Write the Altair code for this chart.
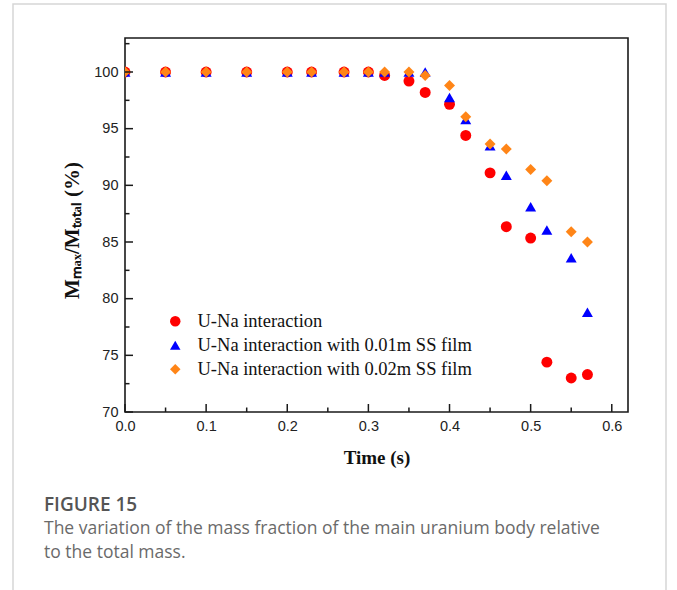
import altair as alt
import pandas as pd

# ---------------- data ----------------
time = [0.0, 0.05, 0.1, 0.15, 0.2, 0.23, 0.27, 0.3, 0.32, 0.35, 0.37,
        0.4, 0.42, 0.45, 0.47, 0.5, 0.52, 0.55, 0.57]
una = [100, 100, 100, 100, 100, 100, 100, 100, 99.7, 99.2, 98.2,
       97.15, 94.4, 91.1, 86.35, 85.35, 74.4, 73.0, 73.3]
una_01 = [100, 100, 100, 100, 100, 100, 100, 100, 100, 100, 100,
          97.75, 95.8, 93.5, 90.9, 88.1, 86.05, 83.6, 78.8]
una_02 = [100, 100, 100, 100, 100, 100, 100, 100, 100, 100, 99.7,
          98.8, 96.05, 93.65, 93.2, 91.4, 90.4, 85.9, 85.0]

series_names = ["U-Na interaction",
                "U-Na interaction with 0.01m SS film",
                "U-Na interaction with 0.02m SS film"]
colors = ["#ff0000", "#0000ff", "#ff8517"]
shapes = ["circle", "triangle-up", "diamond"]

x_major = [0.0, 0.1, 0.2, 0.3, 0.4, 0.5, 0.6]
x_minor = [0.05, 0.15, 0.25, 0.35, 0.45, 0.55]
y_major = [70, 75, 80, 85, 90, 95, 100]
y_minor = [72.5, 77.5, 82.5, 87.5, 92.5, 97.5, 102.5]

x_title = "Time (s)"
y_title = "Mₘₐₓ/Mₜₒₜₐₗ (%)"
caption_head = "FIGURE 15"
caption_lines = ["The variation of the mass fraction of the main uranium body relative",
                 "to the total mass."]

# ---------------- build ----------------
rows = []
for name, vals in zip(series_names, [una, una_01, una_02]):
    for t, v in zip(time, vals):
        rows.append({"time": t, "value": v, "series": name})
df = pd.DataFrame(rows)
df["idx"] = range(len(df))

W, H = 503, 374
xs = alt.Scale(domain=[0, 0.62], nice=False, zero=False)
ys = alt.Scale(domain=[70, 103], nice=False, zero=False)

x_axis = alt.Axis(values=x_major, format=".1f", ticks=False, grid=False,
                  domain=False, labelFlush=False, labelFont="Liberation Sans",
                  labelFontSize=14.5, labelColor="#222", labelPadding=7, title=x_title,
                  titleFont="Liberation Serif", titleFontWeight="bold",
                  titleFontSize=19, titleColor="#111", titlePadding=16)
y_axis = alt.Axis(values=y_major, format="d", ticks=False, grid=False,
                  domain=False, labelFlush=False, labelFont="Liberation Sans",
                  labelFontSize=14.5, labelColor="#222", labelPadding=7, title=y_title,
                  titleFont="Liberation Serif", titleFontWeight="bold",
                  titleFontSize=21, titleColor="#111", titleAngle=270,
                  titleX=-53, titleY=192, titleAlign="center",
                  titleBaseline="middle")

card = alt.Chart(pd.DataFrame({"a": [1]})).mark_rect(
    fill="white", fillOpacity=0, stroke="#d6d6d6", strokeWidth=1.5
).encode(x=alt.value(-112), x2=alt.value(541), y=alt.value(-34), y2=alt.value(620))

points = alt.Chart(df).mark_point(filled=True, opacity=1, size=120, clip=True).encode(
    x=alt.X("time:Q", scale=xs, axis=x_axis),
    y=alt.Y("value:Q", scale=ys, axis=y_axis),
    color=alt.Color("series:N", scale=alt.Scale(domain=series_names, range=colors),
                    sort=series_names,
                    legend=alt.Legend(title=None, orient="none", legendX=41, legendY=274,
                                      labelFont="Liberation Serif", labelFontSize=18.5,
                                      labelColor="#111", symbolSize=110, symbolOpacity=1,
                                      labelOffset=13, rowPadding=5, padding=0,
                                      labelLimit=400)),
    shape=alt.Shape("series:N", scale=alt.Scale(domain=series_names, range=shapes),
                    sort=series_names),
    order=alt.Order("idx:Q"),
)

tick_style = dict(color="#1a1a1a", strokeWidth=1.5)
xt_major = alt.Chart(pd.DataFrame({"time": x_major})).mark_rule(**tick_style).encode(
    x=alt.X("time:Q", scale=xs, axis=x_axis), y=alt.value(H), y2=alt.value(H - 8))
xt_minor = alt.Chart(pd.DataFrame({"time": x_minor})).mark_rule(**tick_style).encode(
    x=alt.X("time:Q", scale=xs, axis=x_axis), y=alt.value(H), y2=alt.value(H - 4.5))
yt_major = alt.Chart(pd.DataFrame({"value": y_major})).mark_rule(**tick_style).encode(
    y=alt.Y("value:Q", scale=ys, axis=y_axis), x=alt.value(0), x2=alt.value(8))
yt_minor = alt.Chart(pd.DataFrame({"value": y_minor})).mark_rule(**tick_style).encode(
    y=alt.Y("value:Q", scale=ys, axis=y_axis), x=alt.value(0), x2=alt.value(4.5))

cap_head = alt.Chart(pd.DataFrame({"t": [caption_head]})).mark_text(
    align="left", baseline="middle", font="Open Sans", fontSize=19, fontWeight=600,
    color="#555555").encode(text="t:N", x=alt.value(-81), y=alt.value(467))
cap_1 = alt.Chart(pd.DataFrame({"t": [caption_lines[0]]})).mark_text(
    align="left", baseline="middle", font="Open Sans", fontSize=17.5,
    color="#6a6a6a").encode(text="t:N", x=alt.value(-81), y=alt.value(491))
cap_2 = alt.Chart(pd.DataFrame({"t": [caption_lines[1]]})).mark_text(
    align="left", baseline="middle", font="Open Sans", fontSize=17.5,
    color="#6a6a6a").encode(text="t:N", x=alt.value(-81), y=alt.value(515))

chart = alt.layer(card, points, xt_major, xt_minor, yt_major, yt_minor,
                  cap_head, cap_1, cap_2).properties(
    width=W, height=H,
    autosize=alt.AutoSizeParams(type="none"),
    padding={"left": 125, "top": 38, "right": 49, "bottom": 178},
    background="white",
).configure_view(stroke="#1a1a1a", strokeWidth=1.6)

chart.save("out.html", embed_options={"renderer": "svg", "actions": False})
